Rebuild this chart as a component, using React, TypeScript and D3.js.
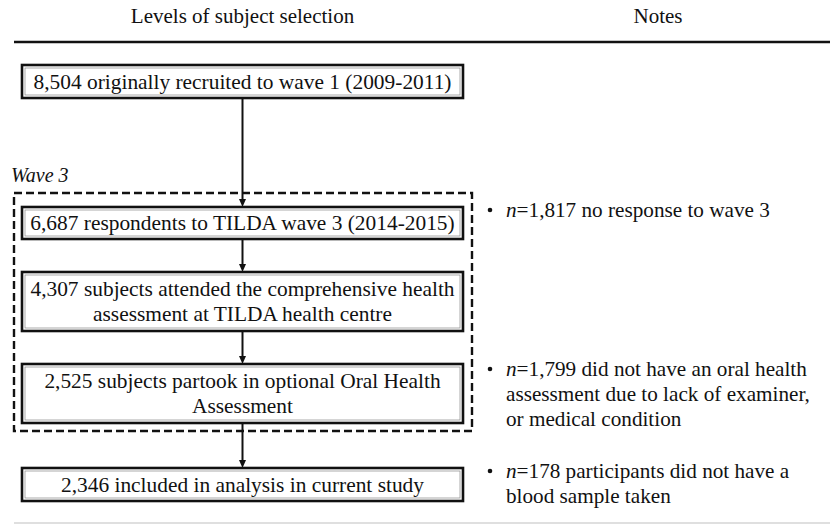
import React from "react";
import * as d3 from "d3";

const headers = ["Levels of subject selection", "Notes"];
const stageLines: string[][] = [
  ["8,504 originally recruited to wave 1 (2009-2011)"],
  ["6,687 respondents to TILDA wave 3 (2014-2015)"],
  ["4,307 subjects attended the comprehensive health", "assessment at TILDA health centre"],
  ["2,525 subjects partook in optional Oral Health", "Assessment"],
  ["2,346 included in analysis in current study"],
];
const groupLabel = "Wave 3";
const noteCounts = ["1,817", "1,799", "178"];
const noteLines: string[][] = [
  [" no response to wave 3"],
  [" did not have an oral health", "assessment due to lack of examiner,", "or medical condition"],
  [" participants did not have a", "blood sample taken"],
];

// layout
const boxTop = [65, 207, 272, 364, 468];
const boxH = [33, 32, 59, 59, 33];
const noteBase = [217, 376, 478];

const FONT = "\"Liberation Serif\", Tinos, \"Times New Roman\", \"DejaVu Serif\", serif";

export default function App() {
  const x = d3.scaleLinear().domain([0, 1]).range([22, 463]);
  const cx = (x(0) + x(1)) / 2;
  const line = d3.line();
  const lh = 25;
  const ts = { fontFamily: FONT };

  return (
    <svg width={830} height={527} style={{ position: "absolute", left: 0, top: 0, background: "#fff", fontFamily: FONT }}>
      <rect x={0} y={0} width={830} height={527} fill="#fff" />
      <text style={ts} x={cx} y={23} textAnchor="middle" fontSize={21} fill="#111">{headers[0]}</text>
      <text style={ts} x={658} y={23} textAnchor="middle" fontSize={21} fill="#111">{headers[1]}</text>
      <path d={line([[14, 42], [830, 42]]) || ""} stroke="#111" strokeWidth={2.6} />
      <path d={line([[14, 523], [830, 523]]) || ""} stroke="#d4d4d4" strokeWidth={1.5} />

      <text style={ts} x={11} y={182} fontSize={20} fontStyle="italic" fill="#111">{groupLabel}</text>
      <rect x={14} y={193} width={458} height={238} fill="none" stroke="#111" strokeWidth={2.4} strokeDasharray="8 4" />

      {stageLines.slice(1).map((_, i) => {
        const y0 = boxTop[i] + boxH[i];
        const y1 = boxTop[i + 1];
        return (
          <g key={"a" + i}>
            <path d={line([[cx, y0], [cx, y1 - 6]]) || ""} stroke="#111" strokeWidth={2} />
            <path d={(line([[cx - 3.5, y1 - 8], [cx + 3.5, y1 - 8], [cx, y1]]) || "") + "Z"} fill="#111" />
          </g>
        );
      })}

      {stageLines.map((lines, i) => {
        const top = boxTop[i];
        const h = boxH[i];
        const n = lines.length;
        const mid = top + h / 2;
        const firstBase = mid + 7 - ((n - 1) * lh) / 2;
        return (
          <g key={"b" + i}>
            <rect x={x(0)} y={top} width={x(1) - x(0)} height={h} fill="#fff" stroke="#111" strokeWidth={2.6} />
            <rect x={x(0) + 3} y={top + 3} width={x(1) - x(0) - 6} height={h - 6} fill="none" stroke="#888" strokeWidth={0.7} />
            {lines.map((t, j) => (
              <text style={ts} key={j} x={cx} y={firstBase + j * lh} textAnchor="middle" fontSize={21.4} fill="#111">{t}</text>
            ))}
          </g>
        );
      })}

      {noteLines.map((lines, i) => (
        <g key={"n" + i}>
          <circle cx={490} cy={noteBase[i] - 7} r={2.3} fill="#111" />
          {lines.map((t, j) => (
            <text style={ts} key={j} x={506} y={noteBase[i] + j * lh} fontSize={21.2} fill="#111">
              {j === 0 ? (
                <>
                  <tspan fontStyle="italic">n</tspan>
                  {"=" + noteCounts[i] + t}
                </>
              ) : t}
            </text>
          ))}
        </g>
      ))}
    </svg>
  );
}
